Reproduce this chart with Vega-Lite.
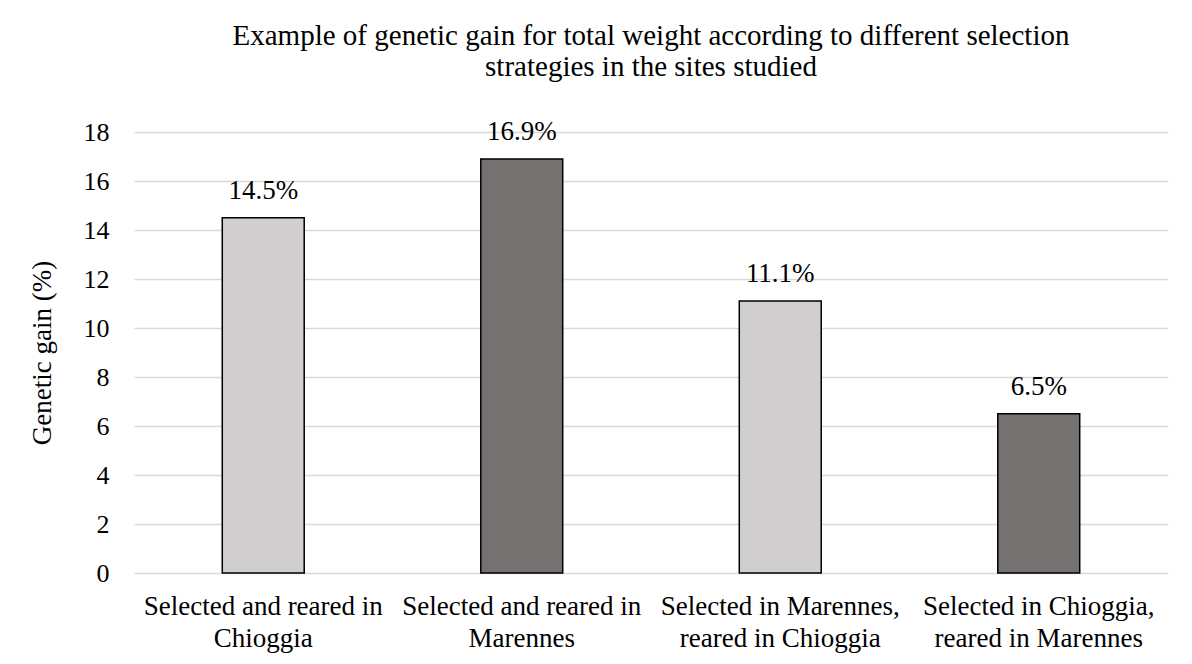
{
  "$schema": "https://vega.github.io/schema/vega-lite/v6.json",
  "autosize": "none",
  "width": 1034,
  "height": 441,
  "padding": {"left": 134, "top": 132, "right": 24, "bottom": 91},
  "background": "white",
  "config": {
    "font": "Liberation Serif",
    "view": {"stroke": null}
  },
  "title": {
    "text": ["Example of genetic gain for total weight according to different selection", "strategies in the sites studied"],
    "fontSize": 29,
    "fontWeight": "normal",
    "font": "Liberation Serif",
    "color": "#000000",
    "lineHeight": 31,
    "baseline": "alphabetic",
    "offset": 13,
    "anchor": "middle"
  },
  "data": {
    "values": [
      {"strategy": "Selected and reared in Chioggia", "gain": 14.5, "type": "same"},
      {"strategy": "Selected and reared in Marennes", "gain": 16.9, "type": "other"},
      {"strategy": "Selected in Marennes, reared in Chioggia", "gain": 11.1, "type": "same"},
      {"strategy": "Selected in Chioggia, reared in Marennes", "gain": 6.5, "type": "other"}
    ]
  },
  "transform": [
    {"calculate": "format(datum.gain, '.1f') + '%'", "as": "label"}
  ],
  "encoding": {
    "x": {
      "field": "strategy",
      "type": "nominal",
      "sort": null,
      "scale": {"paddingInner": 0.683, "paddingOuter": 0.3415},
      "axis": {
        "title": null,
        "labelAngle": 0,
        "labelFontSize": 27,
        "labelColor": "#000000",
        "labelLimit": 400,
        "labelLineHeight": 32,
        "labelPadding": 20,
        "ticks": false,
        "domain": false,
        "labelExpr": "datum.label == 'Selected and reared in Chioggia' ? ['Selected and reared in', 'Chioggia'] : datum.label == 'Selected and reared in Marennes' ? ['Selected and reared in', 'Marennes'] : datum.label == 'Selected in Marennes, reared in Chioggia' ? ['Selected in Marennes,', 'reared in Chioggia'] : ['Selected in Chioggia,', 'reared in Marennes']"
      }
    },
    "y": {
      "field": "gain",
      "type": "quantitative",
      "scale": {"domain": [0, 18]},
      "axis": {
        "title": "Genetic gain (%)",
        "titleFontSize": 27,
        "titleFontWeight": "normal",
        "titleColor": "#000000",
        "titlePadding": 27,
        "values": [0, 2, 4, 6, 8, 10, 12, 14, 16, 18],
        "labelFontSize": 26,
        "labelColor": "#000000",
        "labelPadding": 25,
        "ticks": false,
        "domain": false,
        "grid": true,
        "gridColor": "#d9d9d9",
        "gridWidth": 1.5
      }
    }
  },
  "layer": [
    {
      "mark": {"type": "bar", "stroke": "#000000", "strokeWidth": 1.5},
      "encoding": {
        "color": {
          "field": "type",
          "type": "nominal",
          "scale": {"domain": ["same", "other"], "range": ["#d0cece", "#767171"]},
          "legend": null
        }
      }
    },
    {
      "mark": {"type": "text", "baseline": "alphabetic", "dy": -19, "fontSize": 27, "color": "#000000"},
      "encoding": {
        "text": {"field": "label", "type": "nominal"}
      }
    }
  ]
}
